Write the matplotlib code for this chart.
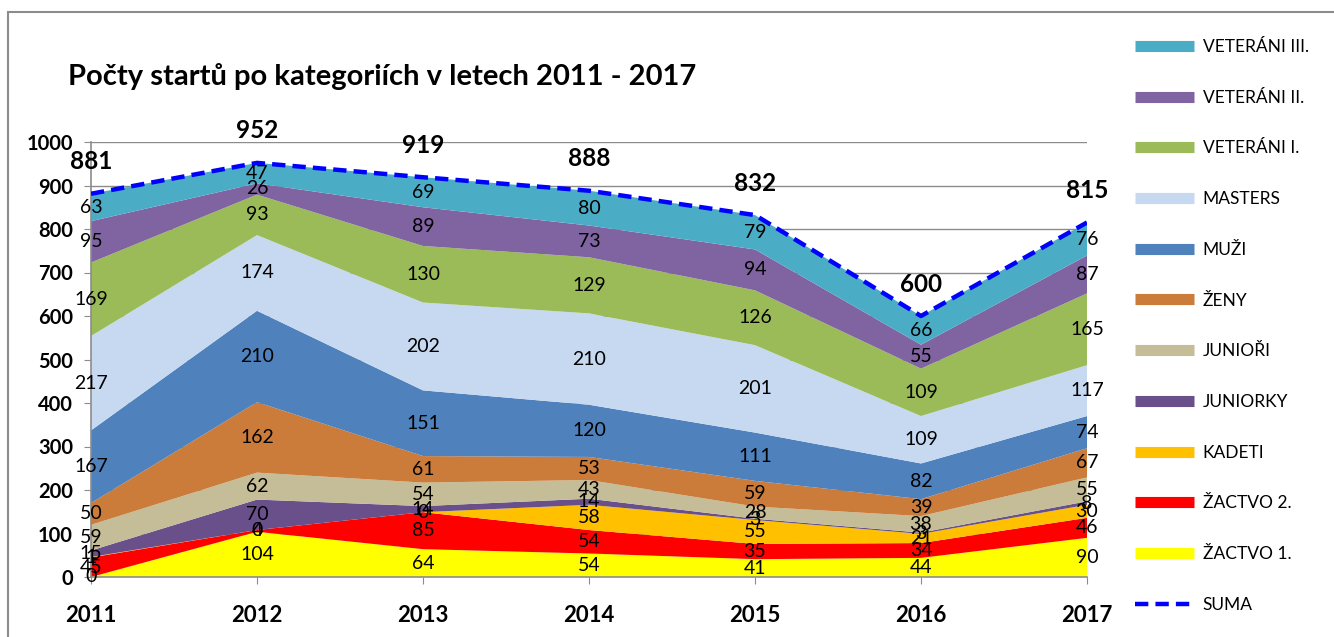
import numpy as np
import matplotlib
matplotlib.use("Agg")
import matplotlib.pyplot as plt
from matplotlib.lines import Line2D
from matplotlib.patches import Rectangle

plt.rcParams['font.family'] = ['Lato', 'DejaVu Sans']

# ---------- Data ----------
years = ["2011", "2012", "2013", "2014", "2015", "2016", "2017"]

zactvo1 = [0, 104, 64, 54, 41, 44, 90]
zactvo2 = [45, 4, 85, 54, 35, 34, 46]
kadeti = [1, 0, 0, 58, 55, 21, 30]
juniorky = [15, 70, 14, 14, 3, 3, 8]
juniori = [59, 62, 54, 43, 28, 38, 55]
zeny = [50, 162, 61, 53, 59, 39, 67]
muzi = [167, 210, 151, 120, 111, 82, 74]
masters = [217, 174, 202, 210, 201, 109, 117]
veterani1 = [169, 93, 130, 129, 126, 109, 165]
veterani2 = [95, 26, 89, 73, 94, 55, 87]
veterani3 = [63, 47, 69, 80, 79, 66, 76]

series_names = ["ŽACTVO 1.", "ŽACTVO 2.", "KADETI", "JUNIORKY", "JUNIOŘI", "ŽENY",
                "MUŽI", "MASTERS", "VETERÁNI I.", "VETERÁNI II.", "VETERÁNI III."]
series_values = [zactvo1, zactvo2, kadeti, juniorky, juniori, zeny,
                 muzi, masters, veterani1, veterani2, veterani3]
series_colors = ["#FFFF00", "#FF0000", "#FFC000", "#69508A", "#C4BD97", "#CB7B3A",
                 "#4F81BD", "#C6D9F1", "#9BBB59", "#8064A2", "#4BACC6"]

# ---------- Figure ----------
W, H = 1334, 637
fig = plt.figure(figsize=(W / 100, H / 100), dpi=100)
# chart frame (only top and left edges are visible in the picture)
fig.patches.append(Rectangle((8 / W, -0.1), 1.2, 1.1 - 12 / H, transform=fig.transFigure,
                             fill=False, edgecolor="#8C8C8C", linewidth=1.5))

ax = fig.add_axes([91 / W, 1 - 577 / H, (1087 - 91) / W, (577 - 142) / H])

x = np.arange(len(years))
data = np.array(series_values, dtype=float)
ax.stackplot(x, data, colors=series_colors, zorder=2)

totals = data.sum(axis=0)
ax.plot(x, totals, color="#0000FF", linestyle=(0, (3, 1.6)), linewidth=3.2, zorder=4)

# band labels
cum = np.cumsum(data, axis=0)
for i in range(data.shape[0]):
    for j in range(data.shape[1]):
        yc = cum[i, j] - data[i, j] / 2
        ax.text(x[j], yc, f"{int(data[i, j])}", ha="center", va="center",
                fontsize=14, color="black", zorder=5, clip_on=False)

# total labels
for j in range(len(x)):
    ax.annotate(f"{int(totals[j])}", (x[j], totals[j]), xytext=(0, 32),
                textcoords="offset pixels", ha="center", va="center",
                fontsize=17.5, fontweight="bold", zorder=5, annotation_clip=False)

ax.set_xlim(0, 6)
ax.set_ylim(0, 1000)
ax.set_yticks(np.arange(0, 1001, 100))
ax.set_xticks(x)
ax.set_xticklabels(years)
ax.yaxis.grid(True, color="#8C8C8C", linewidth=1, zorder=0)
ax.set_axisbelow(True)
for lbl in ax.get_xticklabels() + ax.get_yticklabels():
    lbl.set_fontweight("bold")
ax.tick_params(axis="x", labelsize=16, length=5, color="#8C8C8C", pad=15)
ax.tick_params(axis="y", labelsize=14.5, length=5, color="#8C8C8C", pad=8)
for side in ["top", "right"]:
    ax.spines[side].set_visible(False)
for side in ["left", "bottom"]:
    ax.spines[side].set_color("#8C8C8C")
    ax.spines[side].set_linewidth(1.2)
    ax.spines[side].set_zorder(3)

fig.text(68 / W, 1 - 77 / H, "Počty startů po kategoriích v letech 2011 - 2017",
         fontsize=21, fontweight="bold", ha="left", va="center")

# legend
handles = []
labels = []
for name, col in zip(series_names[::-1], series_colors[::-1]):
    handles.append(Line2D([], [], color=col, linewidth=8, solid_capstyle="butt"))
    labels.append(name)
handles.append(Line2D([], [], color="#0000FF", linewidth=3.2, linestyle=(0, (3, 1.6))))
labels.append("SUMA")
fig.legend(handles, labels, loc="upper left", bbox_to_anchor=(1128 / W, 1 - 32 / H),
           frameon=False, fontsize=12.5, handlelength=3.4, handletextpad=0.5,
           labelspacing=2.0, borderaxespad=0)

fig.savefig("out.png", dpi=100)
